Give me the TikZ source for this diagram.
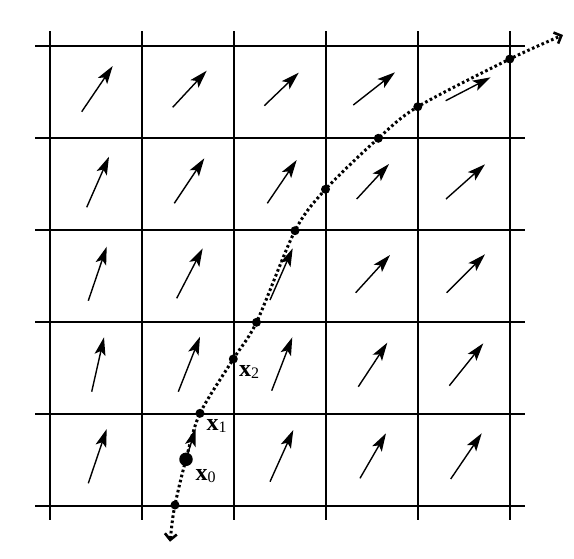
\documentclass[tikz,border=0pt]{standalone}
\usepackage{fontspec}
\setmainfont{Liberation Serif}
\usetikzlibrary{arrows.meta}
\begin{document}
\begin{tikzpicture}[x=1pt,y=-1pt,
  gridline/.style={line width=1.9pt},
  field/.style={line width=1.4pt,-{Stealth[length=18pt,width=11pt,inset=4pt,fill=black]}},
  traj/.style={line width=3pt,dash pattern=on 2.6pt off 2.6pt,
    {Straight Barb[length=6pt,width=12pt,line width=2.6pt]}-{Straight Barb[length=6pt,width=12pt,line width=2.6pt]}},
  pt/.style={circle,fill,inner sep=0pt,minimum size=9pt},
  bigpt/.style={circle,fill,inner sep=0pt,minimum size=13.5pt},
  lab/.style={inner sep=0pt,anchor=base west}]
\fill[white] (0,0) rectangle (574,558);
\useasboundingbox (0,0) rectangle (574,558);
% grid
\foreach \x in {50,142,234,326,418,510} \draw[gridline] (\x,31) -- (\x,520);
\foreach \y in {46,138,230,322,414,506} \draw[gridline] (35,\y) -- (525,\y);
% vector field
\foreach \a/\b/\c/\d in {
  81.7/111.7/112.7/66, 172.7/107.3/206.7/70.7, 264.3/105.7/298.7/72.7, 353.3/105/395/72.3, 445.7/100.7/490.7/77.3,
  86.7/207.3/109/156.7, 174.3/203.3/204.3/158.3, 267.3/203.3/296.7/160, 356.7/199/389/164, 446/199/485/164.3,
  88.3/300.7/106.7/246.7, 176.7/298.3/202.7/248.3, 270/300/292.7/248.3, 355.7/292.7/390/255, 446.7/292.7/485/254.3,
  91.7/391.7/104/337.3, 178.3/391.7/200/336.7, 271.7/390.7/292.3/337.3, 358.3/386.7/387.3/342.7, 449.3/385.7/483.3/343.3,
  88.3/483.3/106.7/429, 270/481.7/293.3/430, 360/478.3/386/433.3, 450.7/479/481.7/433.3}
  \draw[field] (\a,\b) -- (\c,\d);
% trajectory points
\coordinate (s) at (170,541.7);
\coordinate (pm) at (175,505);
\coordinate (p0) at (186,459.3);
\coordinate (p1) at (200,413.3);
\coordinate (p2) at (233.3,359);
\coordinate (p3) at (256.5,322.3);
\coordinate (p4) at (295,230.7);
\coordinate (p5) at (325.5,189.3);
\coordinate (p6) at (378.3,138.3);
\coordinate (p7) at (417.8,106.7);
\coordinate (p8) at (509.8,59);
\coordinate (e) at (563,35);
\coordinate (v0) at (195.7,428.3);
\draw[field] (p0) -- (v0);
\draw[traj] plot[smooth,tension=0.5] coordinates {(s) (pm) (p0) (p1) (p2) (p3) (p4) (p5) (p6) (p7) (p8) (e)};
\foreach \p in {pm,p1,p2,p3,p4,p5,p6,p7,p8} \node[pt] at (\p) {};
\node[bigpt] at (p0) {};
% labels
\node[lab] (l0) at (195.5,480) {\fontsize{24}{24}\selectfont\textbf{x}\raisebox{-2.5pt}{\fontsize{16}{16}\selectfont 0}};
\node[lab] (l1) at (206.5,430) {\fontsize{24}{24}\selectfont\textbf{x}\raisebox{-2.5pt}{\fontsize{16}{16}\selectfont 1}};
\node[lab] (l2) at (239,376) {\fontsize{24}{24}\selectfont\textbf{x}\raisebox{-2.5pt}{\fontsize{16}{16}\selectfont 2}};
\end{tikzpicture}
\end{document}
